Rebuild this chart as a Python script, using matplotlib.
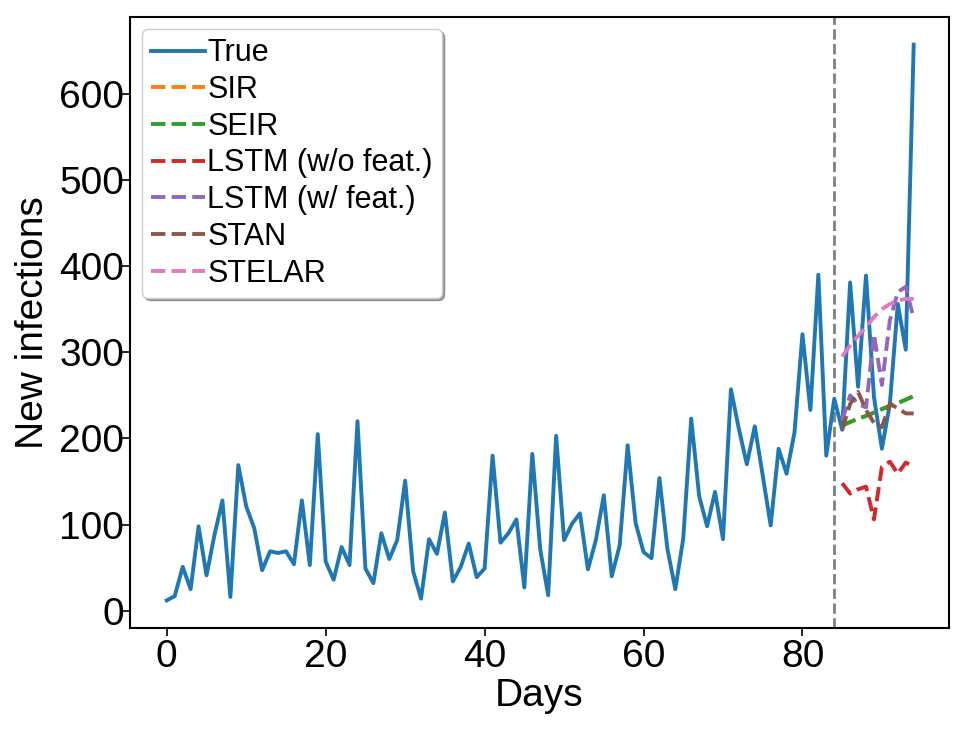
import matplotlib
matplotlib.use("Agg")
import matplotlib.pyplot as plt
import numpy as np

plt.rcParams['font.family'] = ['Liberation Sans', 'DejaVu Sans']

true_vals = [12, 17, 51, 25, 98, 41, 88, 128, 16, 169,
             121, 96, 47, 69, 67, 69, 54, 128, 53, 205,
             57, 36, 74, 53, 220, 49, 32, 90, 60, 82,
             151, 46, 14, 83, 66, 114, 34, 51, 78, 39,
             49, 180, 79, 90, 106, 27, 182, 71, 18, 203,
             82, 101, 113, 48, 82, 134, 40, 76, 192, 102,
             68, 61, 154, 72, 25, 84, 223, 133, 98, 138,
             83, 257, 211, 170, 214, 157, 99, 188, 159, 207,
             321, 233, 390, 180, 246, 210, 381, 260, 389, 248,
             188, 240, 356, 303, 657]
days = list(range(len(true_vals)))

split_day = 84
fc_days = list(range(85, 95))
sir_vals = [215, 219, 223, 226, 230, 234, 238, 241, 245, 249]
seir_vals = [215, 219, 223, 226, 230, 234, 238, 241, 245, 249]
lstm_wo_vals = [148, 136, 141, 144, 106, 167, 173, 159, 172, 167]
lstm_w_vals = [221, 250, 240, 236, 321, 262, 337, 370, 376, 339]
stan_vals = [210, 240, 254, 233, 218, 213, 240, 235, 229, 229]
stelar_vals = [295, 308, 319, 329, 341, 350, 356, 360, 362, 362]

fig = plt.figure(figsize=(9.69, 7.33), dpi=100)
ax = fig.add_axes([0.134, 0.143, 0.845, 0.834])

ax.axvline(split_day, color='gray', linestyle='--', linewidth=2, zorder=1)
lw = 2.8
ax.plot(days, true_vals, color='C0', linewidth=lw, label='True')
ax.plot(fc_days, sir_vals, color='C1', linestyle='--', linewidth=lw, label='SIR')
ax.plot(fc_days, seir_vals, color='C2', linestyle='--', linewidth=lw, label='SEIR')
ax.plot(fc_days, lstm_wo_vals, color='C3', linestyle='--', linewidth=lw, label='LSTM (w/o feat.)')
ax.plot(fc_days, lstm_w_vals, color='C4', linestyle='--', linewidth=lw, label='LSTM (w/ feat.)')
ax.plot(fc_days, stan_vals, color='C5', linestyle='--', linewidth=lw, label='STAN')
ax.plot(fc_days, stelar_vals, color='C6', linestyle='--', linewidth=lw, label='STELAR')

ax.set_xlim(-4.65, 98.4)
ax.set_xticks([0, 20, 40, 60, 80])
ax.set_yticks([0, 100, 200, 300, 400, 500, 600])
ax.tick_params(axis='both', labelsize=28, length=6, width=1.2)
ax.tick_params(axis='y', pad=-2)
ax.tick_params(axis='x', pad=2)
for s in ax.spines.values():
    s.set_linewidth(1.5)

ax.set_xlabel('Days', fontsize=28, labelpad=2)
ax.set_ylabel('New infections', fontsize=28, labelpad=6)

leg = ax.legend(loc='upper left', fontsize=22, shadow=True, handlelength=1.75,
                handletextpad=0.08, labelspacing=0.22, borderaxespad=0.4,
                borderpad=0.3, framealpha=1)

fig.savefig('out.png', dpi=100)
